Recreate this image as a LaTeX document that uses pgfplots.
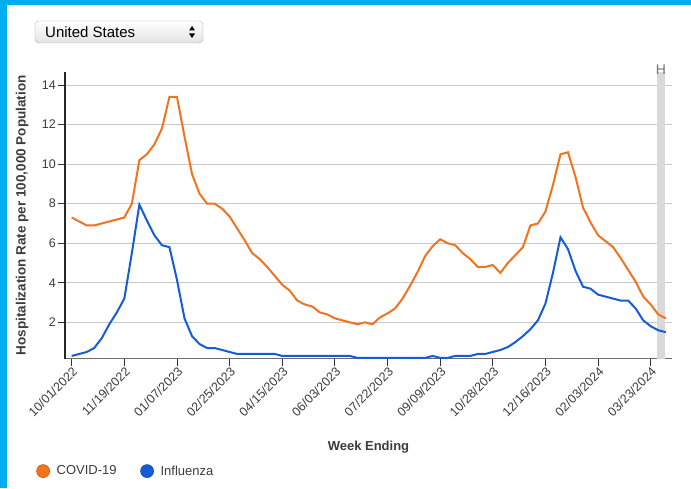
\documentclass[border=0pt]{standalone}
\usepackage{pgfplots}
\pgfplotsset{compat=1.18}
\usepackage{pgfplotstable}
\usepackage{fontspec}
\setmainfont{Liberation Sans}
\usetikzlibrary{shadings}

\definecolor{covid}{RGB}{240,116,32}
\definecolor{flu}{RGB}{22,92,216}
\definecolor{frame}{RGB}{0,174,239}
\definecolor{gridc}{RGB}{200,200,200}
\definecolor{txt}{RGB}{60,60,60}

% week index, covid rate, flu rate
\pgfplotstableread{
w covid flu
0 7.3 0.3
1 7.1 0.4
2 6.9 0.5
3 6.9 0.7
4 7.0 1.2
5 7.1 1.9
6 7.2 2.5
7 7.3 3.2
8 8.0 5.5
9 10.2 7.95
10 10.5 7.15
11 11.0 6.4
12 11.8 5.9
13 13.4 5.8
14 13.4 4.15
15 11.4 2.2
16 9.5 1.3
17 8.5 0.9
18 8.0 0.7
19 8.0 0.7
20 7.75 0.6
21 7.35 0.5
22 6.75 0.4
23 6.15 0.4
24 5.5 0.4
25 5.2 0.4
26 4.8 0.4
27 4.35 0.4
28 3.9 0.3
29 3.6 0.3
30 3.1 0.3
31 2.9 0.3
32 2.8 0.3
33 2.5 0.3
34 2.4 0.3
35 2.2 0.3
36 2.1 0.3
37 2.0 0.3
38 1.9 0.2
39 2.0 0.2
40 1.9 0.2
41 2.25 0.2
42 2.45 0.2
43 2.7 0.2
44 3.2 0.2
45 3.85 0.2
46 4.55 0.2
47 5.35 0.2
48 5.85 0.3
49 6.2 0.2
50 6.0 0.2
51 5.9 0.3
52 5.5 0.3
53 5.2 0.3
54 4.8 0.4
55 4.8 0.4
56 4.9 0.5
57 4.5 0.6
58 5.0 0.75
59 5.4 1.0
60 5.8 1.3
61 6.9 1.65
62 7.0 2.1
63 7.6 2.95
64 8.95 4.5
65 10.5 6.3
66 10.6 5.7
67 9.35 4.6
68 7.8 3.8
69 7.05 3.7
70 6.4 3.4
71 6.1 3.3
72 5.8 3.2
73 5.25 3.1
74 4.65 3.1
75 4.05 2.7
76 3.3 2.1
77 2.9 1.8
78 2.4 1.6
79 2.2 1.5
}\rates

\begin{document}
\begin{tikzpicture}
\useasboundingbox (0,0) rectangle (691pt,488pt);
\fill[white] (0,0) rectangle (691pt,488pt);
% blue frame
\fill[frame] (0,0) rectangle (7pt,488pt);
\fill[frame] (0,483pt) rectangle (691pt,488pt);
% country selector
\draw[rounded corners=4pt, draw=gray!60, top color=white, bottom color=gray!22]
  (35pt,445pt) rectangle (203pt,467pt);
\node[anchor=west, font=\fontsize{15}{17}\selectfont, inner sep=0pt] at (45pt,456pt) {United States};
\fill[black] (189pt,457.5pt) -- (195pt,457.5pt) -- (192pt,462pt) -- cycle;
\fill[black] (189pt,454.5pt) -- (195pt,454.5pt) -- (192pt,450pt) -- cycle;

\begin{axis}[
  at={(65pt,129.5pt)}, anchor=south west,
  scale only axis, width=607pt, height=286.5pt,
  xmin=-0.89, xmax=79.83, ymin=0.17, ymax=14.66,
  axis lines=left,
  axis line style={-},
  x axis line style={gray!85!black, line width=1pt},
  y axis line style={black!85, line width=1.2pt},
  tick align=outside,
  major tick length=7pt,
  tick style={black!80, line width=0.9pt},
  ytick={2,4,...,14},
  xtick={0,7,...,77},
  xticklabels={10/01/2022,11/19/2022,01/07/2023,02/25/2023,04/15/2023,06/03/2023,07/22/2023,09/09/2023,10/28/2023,12/16/2023,02/03/2024,03/23/2024},
  x tick label style={rotate=45, anchor=north east, inner sep=0.5pt, font=\fontsize{12.5}{14}\selectfont, text=txt},
  y tick label style={font=\fontsize{12.5}{14}\selectfont, text=txt, inner sep=2pt},
  /pgf/number format/assume math mode=true,
  ymajorgrids,
  major grid style={gridc, line width=1.1pt},
  xlabel={\textbf{Week Ending}},
  xlabel style={font=\fontsize{13}{15}\selectfont, text=txt, at={(axis description cs:0.5,0)}, anchor=center, yshift=-88.5pt},
  legend style={at={(-0.052,-0.393)}, anchor=west, draw=none, fill=none,
    legend columns=2, font=\fontsize{13}{15}\selectfont, text=txt,
    /tikz/every odd column/.append style={column sep=5pt},
    /tikz/every even column/.append style={column sep=22pt}},
  legend cell align=left,
  clip=false,
]
\fill[gray!30] (axis cs:77.8,0.17) rectangle (axis cs:78.9,14.66);
\node[anchor=south, text=gray!110, font=\fontsize{14}{15}\selectfont, inner sep=1pt] at (axis cs:78.35,14.45) {H};
\node[rotate=90, anchor=center, text=txt, font=\fontsize{13.5}{15}\selectfont\bfseries]
  at (axis description cs:-0.0708,0.5) {Hospitalization Rate per 100,000 Population};
\addlegendimage{only marks, mark=*, mark size=6.5pt, mark options={fill=covid, draw=covid!80!black, line width=0.6pt}}
\addlegendentry{COVID-19}
\addlegendimage{only marks, mark=*, mark size=6.5pt, mark options={fill=flu, draw=flu!80!black, line width=0.6pt}}
\addlegendentry{Influenza}
\addplot[covid, line width=2pt, forget plot] table[x=w, y=covid] {\rates};
\addplot[flu, line width=2pt, forget plot] table[x=w, y=flu] {\rates};
\end{axis}
\end{tikzpicture}
\end{document}
